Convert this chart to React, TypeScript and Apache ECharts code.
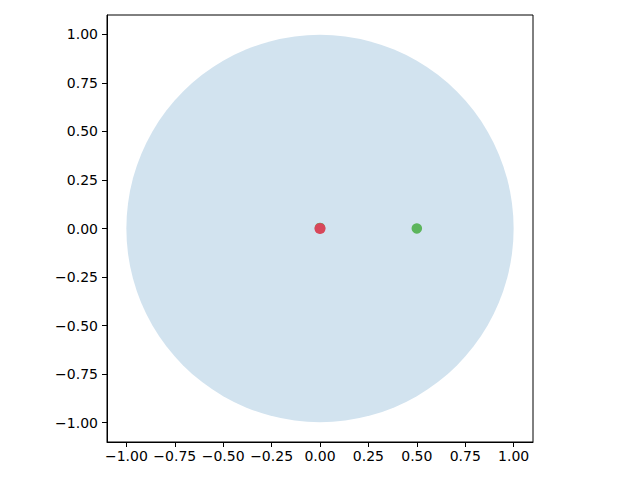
import React, { useEffect, useRef } from "react";
import * as echarts from "echarts";

const tickValues = [-1.0, -0.75, -0.5, -0.25, 0.0, 0.25, 0.5, 0.75, 1.0];
const circleData = [[0, 0, 1]]; // cx, cy, radius
const greenPoints = [[0, 0.003], [0.5, 0]];
const redPoints = [[0, 0]];

const fmt = (v: number) => {
  const s = v.toFixed(2);
  return s.replace("-", "\u2212");
};

export default function App() {
  const ref = useRef<HTMLDivElement>(null);
  useEffect(() => {
    const chart = echarts.init(ref.current!, null, { renderer: "svg" });
    const axisCommon = {
      type: "value" as const,
      min: -1.1,
      max: 1.1,
      splitLine: { show: false },
      axisLine: { show: true, onZero: false, lineStyle: { color: "#000", width: 1 } },
      axisTick: {
        show: true,
        length: 5,
        lineStyle: { color: "#000", width: 1 },
        customValues: tickValues,
      },
      axisLabel: {
        color: "#000",
        fontSize: 14,
        fontFamily: "DejaVu Sans",
        customValues: tickValues,
        formatter: (v: number) => fmt(v),
      },
    };
    chart.setOption({
      animation: false,
      backgroundColor: "#fff",
      grid: {
        left: 107,
        top: 15,
        width: 426,
        height: 427,
        show: true,
        borderColor: "#000",
        borderWidth: 1,
        backgroundColor: "transparent",
      },
      xAxis: { ...axisCommon, axisLabel: { ...axisCommon.axisLabel, margin: 7 } },
      yAxis: { ...axisCommon, axisLabel: { ...axisCommon.axisLabel, margin: 9 } },
      series: [
        {
          type: "custom",
          data: circleData,
          renderItem: (params: any, api: any) => {
            const c = api.coord([api.value(0), api.value(1)]);
            const s = api.size([api.value(2), api.value(2)]);
            return {
              type: "circle",
              shape: { cx: c[0], cy: c[1], r: s[0] },
              style: { fill: "#d2e3ef" },
              silent: true,
            };
          },
          z: 1,
        },
        {
          type: "scatter",
          data: greenPoints,
          symbolSize: 10.5,
          itemStyle: { color: "#5cb55c", opacity: 1 },
          z: 2,
        },
        {
          type: "scatter",
          data: redPoints,
          symbolSize: 11,
          itemStyle: { color: "#d8475a", opacity: 1 },
          z: 3,
        },
      ],
    });
    return () => chart.dispose();
  }, []);
  return <div ref={ref} style={{ width: 640, height: 480, margin: -8 }} />;
}
